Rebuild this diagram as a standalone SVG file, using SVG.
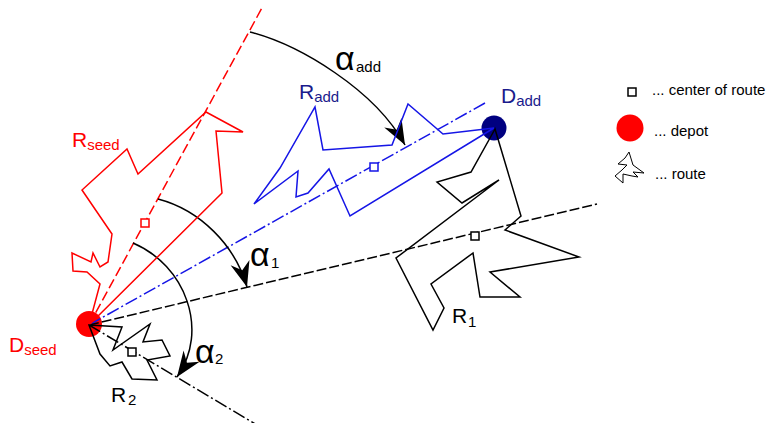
<svg xmlns="http://www.w3.org/2000/svg" width="768" height="423" viewBox="0 0 768 423">
<style>
text{font-family:"Liberation Sans",Arial,sans-serif;}
.route{fill:none;stroke-width:1.5;stroke-linejoin:miter;}
.center{fill:#fff;stroke-width:1.5;}
.arc{fill:none;stroke:#000;stroke-width:1.5;}
.lbl{font-size:21px;}
.sub{font-size:15px;}
.alpha{font-size:34px;}
.leg{font-size:15px;fill:#000;}
</style>
<defs>
<marker id="ah" markerUnits="userSpaceOnUse" markerWidth="30" markerHeight="30" viewBox="-24 -10 26 20" refX="0" refY="0" orient="auto">
<path d="M0,0 L-22,-8.5 L-15,0 L-22,8.5 Z" fill="#000"/>
</marker>
</defs>
<rect width="768" height="423" fill="#fff"/>

<g id="depot-seed"><circle cx="89" cy="324" r="13" fill="#ff0000"/></g>
<g id="depot-add"><circle cx="494" cy="128" r="12.5" fill="#000080"/></g>

<g id="connectors">
<line x1="89" y1="325" x2="263" y2="6" stroke="#ff0000" stroke-width="1.5" stroke-dasharray="10,4"/>
<line x1="89" y1="325" x2="485" y2="103" stroke="#1515e6" stroke-width="1.5" stroke-dasharray="13,3,2,3"/>
<line x1="89" y1="325" x2="597" y2="204" stroke="#000" stroke-width="1.5" stroke-dasharray="10,3"/>
<line x1="89" y1="325" x2="262" y2="428" stroke="#000" stroke-width="1.5" stroke-dasharray="13,3,2,3"/>
<path class="arc" d="M250,32 C300,45 375,90 405,145" marker-end="url(#ah)"/>
<path class="arc" d="M158,199 C200,210 235,245 247,287" marker-end="url(#ah)"/>
<path class="arc" d="M133,243 C185,265 210,330 177,377" marker-end="url(#ah)"/>
</g>

<g id="route-seed">
<path class="route" stroke="#ff0000" d="M89,325 L222,193 L216,131 L243,132 L206,112 L138,174 L127,149 L82,190 L112,234 L108,262 L100,267 L93,253 L91,262 L72,253 L73,271 L87,272 L100,284 Z"/>
<rect class="center" stroke="#ff0000" x="141" y="219" width="8" height="8"/>
<text class="lbl" x="72" y="147" fill="#ff0000">R<tspan class="sub" dy="3">seed</tspan></text>
</g>

<g id="route-add">
<path class="route" stroke="#1515e6" d="M494,128 L443,134 L408,104 L392,145 L323,150 L315,107 L280,168 L254,204 L298,171 L296,197 L308,193 L329,169 L350,216 Z"/>
<rect class="center" stroke="#1515e6" x="370" y="163" width="8" height="8"/>
<text class="lbl" x="299" y="99" fill="#1a1a8c">R<tspan class="sub" dy="3">add</tspan></text>
</g>

<g id="route-1">
<path class="route" stroke="#000" d="M495,129 L471,172 L437,182 L462,203 L499,180 L396,258 L433,330 L444,308 L431,284 L473,253 L480,297 L520,297 L490,272 L579,257 L505,230 L521,216 Z"/>
<rect class="center" stroke="#000" x="471" y="232" width="8" height="8"/>
<text class="lbl" x="452" y="323" fill="#000">R<tspan class="sub" x="468" dy="4">1</tspan></text>
</g>

<g id="route-2">
<path class="route" stroke="#000" d="M89,325 L122,327 L113,350 L150,324 L143,342 L162,340 L170,356 L147,360 L157,380 L132,379 L122,362 L110,366 L100,354 Z"/>
<rect class="center" stroke="#000" x="128" y="348" width="8" height="8"/>
<text class="lbl" x="111" y="402" fill="#000">R<tspan class="sub" x="128" dy="3">2</tspan></text>
</g>

<g id="label-dseed"><text class="lbl" x="9" y="352" fill="#ff0000">D<tspan class="sub" dy="3">seed</tspan></text></g>
<g id="label-dadd"><text class="lbl" x="501" y="103" fill="#1a1a8c">D<tspan class="sub" dy="3">add</tspan></text></g>

<g id="label-alpha-add"><text class="alpha" x="335" y="70" fill="#000">α<tspan class="sub" x="356" dy="2">add</tspan></text></g>
<g id="label-alpha1"><text class="alpha" x="250" y="266" fill="#000">α<tspan class="sub" x="271" dy="2">1</tspan></text></g>
<g id="label-alpha2"><text class="alpha" x="195" y="363" fill="#000">α<tspan class="sub" x="215" dy="1">2</tspan></text></g>

<g id="legend-center">
<rect x="628" y="88" width="8" height="8" fill="#fff" stroke="#000" stroke-width="1.5"/>
<text class="leg" x="652" y="95">... center of route</text>
</g>
<g id="legend-depot">
<circle cx="630" cy="128" r="13.5" fill="#ff0000"/>
<text class="leg" x="654" y="136">... depot</text>
</g>
<g id="legend-route">
<path d="M629,152 L633,165 L644,173 L633,172 L638,177 L632,176 L623,174 L623,183 L615,176 L622,170 L627,165 L618,164 L625,158 Z" fill="none" stroke="#000" stroke-width="1"/>
<text class="leg" x="655" y="179">... route</text>
</g>
</svg>
